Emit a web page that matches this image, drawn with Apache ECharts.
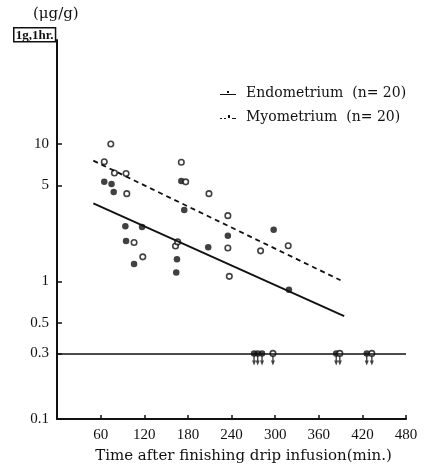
<!DOCTYPE html>
<html>
<head>
<meta charset="utf-8">
<script src="https://cdn.jsdelivr.net/npm/echarts@6/dist/echarts.min.js"></script>
<style>
    html, body { margin: 0; padding: 0; background: #fff; }
    #chart { width: 425px; height: 467px; }
</style>
</head>
<body>
<div id="chart"></div>
<script>
    // measured concentrations (min, ug/g)
    var endoPoints = [[65, 5.3], [75, 5.12], [78, 4.48], [94, 2.52], [95, 1.97], [106, 1.34], [117, 2.49],
        [164, 1.16], [165, 1.45], [171, 5.38], [175, 3.31], [208, 1.77], [235, 2.15], [298, 2.38], [319, 0.87]];
    var myoPoints = [[65, 7.43], [74, 10], [79, 6.15], [95, 6.1], [96, 4.35], [106, 1.92], [118, 1.51],
        [163, 1.81], [166, 1.94], [171, 7.36], [177, 5.3], [209, 4.35], [235, 3.01], [235, 1.75], [237, 1.09],
        [280, 1.67], [318, 1.82]];
    // below detection limit (times only)
    var endoBelow = [271, 276, 282, 384, 426];
    var myoBelow = [297, 389, 433];
    var detectLimit = 0.3;
    // regression lines
    var endoLine = [[50, 3.7], [395, 0.56]];
    var myoLine = [[50, 7.56], [390, 1.02]];
    var xTicks = [60, 120, 180, 240, 300, 360, 420, 480];
    var yTicks = [0.1, 0.3, 0.5, 1, 5, 10];

    var serif = '"Liberation Serif", "DejaVu Serif", serif';
    var wide = '"DejaVu Serif", serif';
    var arrowPath = 'path://M-0.7,0 L0.7,0 L0.7,5 L2,5 L0,10 L-2,5 L-0.7,5 Z';
    // legend glyphs: solid line with a tick, dashed line with a small ring
    var endoIcon = 'path://M0,6 L16,6 L16,7.2 L0,7.2 Z M7,3 L9,3 L9,5 L7,5 Z';
    var myoIcon = 'path://M0,6 L2,6 L2,7.2 L0,7.2 Z M4,6 L6,6 L6,7.2 L4,7.2 Z M12,6 L16,6 L16,7.2 L12,7.2 Z ' +
        'M8,3 L10,3 L10,6 L8,6 Z';

    function belowData(list) {
        return list.map(function (t) { return [t, detectLimit]; });
    }

    var myChart = echarts.init(document.getElementById('chart'));
    myChart.setOption({
        animation: false,
        grid: { left: 57, right: 19, top: 40, bottom: 48, outerBoundsMode: 'none' },
        graphic: [
            { type: 'text', left: 33, top: 7, style: { text: '(μg/g)', font: '15px ' + wide, fill: '#111' } },
            {
                type: 'text', left: 13, top: 27,
                style: {
                    text: '1g,1hr.', font: 'bold 13px ' + serif, fill: '#111',
                    borderColor: '#111', borderWidth: 1.5, padding: [1, 2, 0, 2]
                }
            }
        ],
        legend: {
            data: [
                { name: 'Endometrium  (n= 20)', icon: endoIcon },
                { name: 'Myometrium  (n= 20)', icon: myoIcon }
            ],
            orient: 'vertical',
            left: 215,
            top: 81,
            itemGap: 10,
            itemWidth: 16,
            itemHeight: 10,
            itemStyle: { color: '#111', borderWidth: 0 },
            textStyle: { fontFamily: wide, fontSize: 14, color: '#111', padding: [0, 0, 0, 5] }
        },
        xAxis: {
            type: 'value',
            min: 0,
            max: 480,
            axisLine: { lineStyle: { color: '#111', width: 2 } },
            axisTick: { inside: true, length: 4, customValues: xTicks, lineStyle: { color: '#111', width: 1.5 } },
            axisLabel: { customValues: xTicks, color: '#111', fontFamily: serif, fontSize: 15, margin: 9 },
            splitLine: { show: false },
            name: 'Time after finishing drip infusion(min.)',
            nameLocation: 'middle',
            nameGap: 30,
            nameTextStyle: { fontFamily: wide, fontSize: 15, color: '#111', padding: [0, 0, 0, 24] }
        },
        yAxis: {
            type: 'log',
            min: 0.1,
            max: 57,
            axisLine: { show: true, lineStyle: { color: '#111', width: 2 } },
            axisTick: { inside: true, length: 5, customValues: yTicks, lineStyle: { color: '#111', width: 1.5 } },
            axisLabel: { customValues: yTicks, color: '#111', fontFamily: serif, fontSize: 15, margin: 8 },
            splitLine: { show: false }
        },
        series: [
            {
                name: 'Endometrium  (n= 20)',
                type: 'line',
                data: endoLine,
                symbol: 'none',
                lineStyle: { color: '#111', width: 1.8 },
                itemStyle: { color: '#111' },
                markLine: {
                    silent: true,
                    symbol: 'none',
                    label: { show: false },
                    lineStyle: { color: '#111', width: 1.5, type: 'solid' },
                    data: [{ yAxis: detectLimit }]
                }
            },
            {
                name: 'Myometrium  (n= 20)',
                type: 'line',
                data: myoLine,
                symbol: 'none',
                lineStyle: { color: '#111', width: 1.8, type: [5, 4] },
                itemStyle: { color: '#111' }
            },
            {
                name: 'endo',
                type: 'scatter',
                data: endoPoints,
                symbol: 'circle',
                symbolSize: 6.5,
                itemStyle: { color: '#111' }
            },
            {
                name: 'myo',
                type: 'scatter',
                data: myoPoints,
                symbol: 'circle',
                symbolSize: 5.5,
                itemStyle: { color: '#fff', borderColor: '#111', borderWidth: 1.6 }
            },
            {
                name: 'arrows',
                type: 'scatter',
                data: belowData(endoBelow).concat(belowData(myoBelow)),
                symbol: arrowPath,
                symbolSize: [4, 10],
                symbolOffset: [0, 7],
                itemStyle: { color: '#111' }
            },
            {
                name: 'endoBelow',
                type: 'scatter',
                data: belowData(endoBelow),
                symbol: 'circle',
                symbolSize: 6.5,
                itemStyle: { color: '#111' }
            },
            {
                name: 'myoBelow',
                type: 'scatter',
                data: belowData(myoBelow),
                symbol: 'circle',
                symbolSize: 5.5,
                itemStyle: { color: '#fff', borderColor: '#111', borderWidth: 1.6 }
            }
        ]
    });
</script>
</body>
</html>
